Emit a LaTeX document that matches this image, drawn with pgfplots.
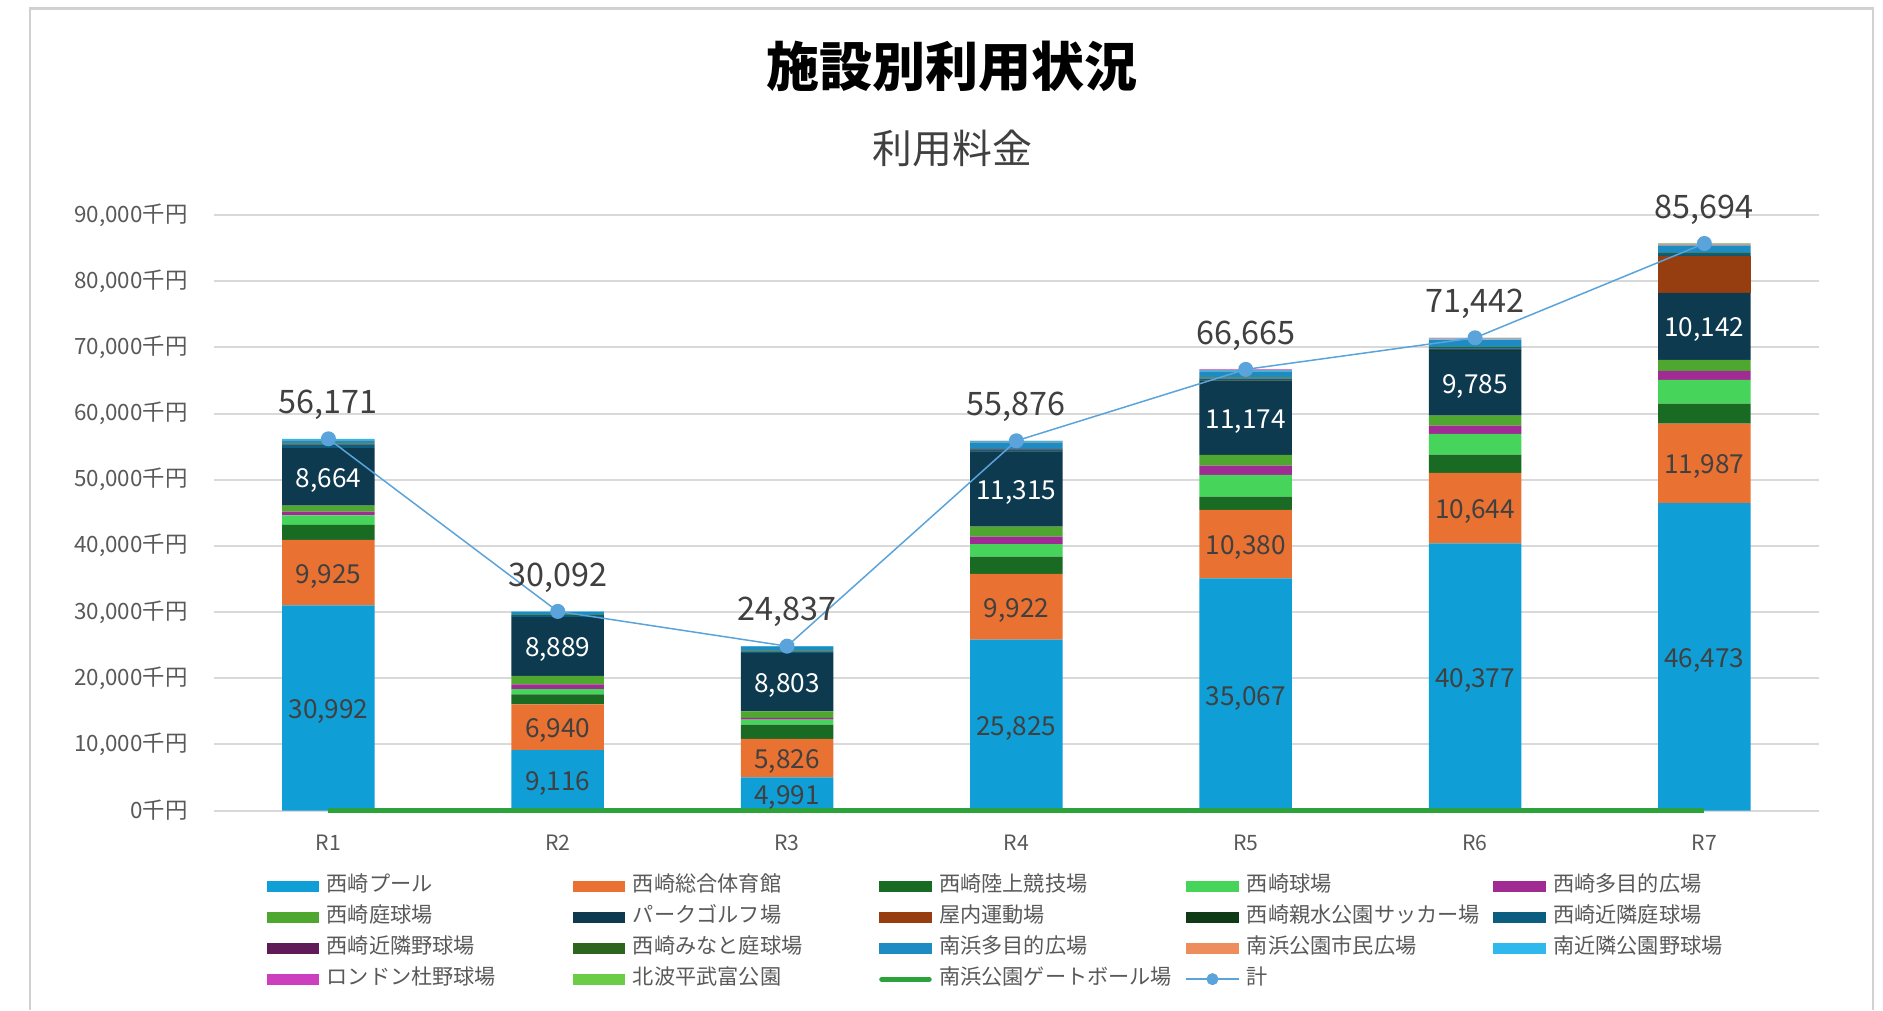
\documentclass[border=0pt]{standalone}
\usepackage{pgfplots}
\pgfplotsset{compat=1.18}
\usepackage{pgfplotstable}
\usepackage{fontspec}
\setmainfont{Noto Sans CJK JP}
\definecolor{cPool}{HTML}{0F9ED5}
\definecolor{cSogo}{HTML}{E97132}
\definecolor{cRiku}{HTML}{196B24}
\definecolor{cKyu}{HTML}{47D45A}
\definecolor{cTamo}{HTML}{A02B93}
\definecolor{cTei}{HTML}{4EA72E}
\definecolor{cPG}{HTML}{0E3A4F}
\definecolor{cOku}{HTML}{973E10}
\definecolor{cShin}{HTML}{0E3B15}
\definecolor{cKinT}{HTML}{0B5E80}
\definecolor{cKinY}{HTML}{601A58}
\definecolor{cMina}{HTML}{2E651C}
\definecolor{cMTamo}{HTML}{1E8CC2}
\definecolor{cShimin}{HTML}{ED8C5C}
\definecolor{cMKin}{HTML}{2FB8EE}
\definecolor{cLon}{HTML}{CC3FBE}
\definecolor{cKita}{HTML}{6BCC45}
\definecolor{cGate}{HTML}{2CA23A}
\definecolor{cTotal}{HTML}{5BA3DB}
\definecolor{tickgray}{HTML}{595959}
\definecolor{labgray}{HTML}{404040}

% stacked series, R1..R7
\pgfplotstableread{
x pool sogo riku kyu tamo tei pg oku shin kint kiny mina mtamo shimin mkin lon kita gate
0 30992 9925 2270 1400 600 900 8664 0 0 500 50 200 450 20 200 0 0 20
1 9116 6940 1500 800 700 1300 8889 0 0 150 20 100 457 20 100 0 0 20
2 4991 5826 2170 750 250 1000 8803 0 0 250 20 150 507 20 100 0 0 20
3 25825 9922 2630 1870 1160 1500 11315 0 100 200 50 100 950 100 100 50 4 20
4 35067 10380 2000 3270 1410 1610 11174 0 100 250 50 150 900 100 100 100 4 20
5 40377 10644 2770 3120 1260 1510 9785 0 100 250 50 150 1100 100 150 50 26 20
6 46473 11987 3040 3580 1360 1660 10142 5490 100 250 50 150 1050 100 120 100 42 20
}\datatable

\pgfplotstableread{
x y lab
0 56171 56,171
1 30092 30,092
2 24837 24,837
3 55876 55,876
4 66665 66,665
5 71442 71,442
6 85694 85,694
}\totaltable

% label positions (segment centres) and values
\pgfplotstableread{
x y lab
0 15496 30,992
1 4558 9,116
2 2495.5 4,991
3 12912.5 25,825
4 17533.5 35,067
5 20188.5 40,377
6 23236.5 46,473
}\poollab
\pgfplotstableread{
x y lab
0 35954.5 9,925
1 12586 6,940
2 7904 5,826
3 30786 9,922
4 40257 10,380
5 45699 10,644
6 52466.5 11,987
}\sogolab
\pgfplotstableread{
x y lab
0 50419 8,664
1 24800.5 8,889
2 19388.5 8,803
3 48564.5 11,315
4 59324 11,174
5 64573.5 9,785
6 73171 10,142
}\pglab

\pgfplotsset{
  barleg/.style={legend image code/.code={\fill[##1,draw=none] (0bp,-2.2bp) rectangle (21bp,2.2bp);}},
  bs/.style={fill=#1, draw=none, barleg},
}

\begin{document}
\begin{tikzpicture}[x=1bp,y=1bp]
\path (0,0) rectangle (753.2,404);
\draw[black!18, line width=1bp] (12,0) -- (12,400.6) -- (749.2,400.6) -- (749.2,0);
\node[font=\bfseries\fontsize{21.3}{24}\selectfont, text=black] at (380.9,377.6) {施設別利用状況};
\node[font=\fontsize{16}{18}\selectfont, text=labgray] at (380.9,344.8) {利用料金};

\begin{axis}[
  at={(85.5bp,79.8bp)}, anchor=south west, scale only axis,
  width=642.1bp, height=238.2bp,
  ybar stacked, bar width=37bp,
  xmin=-0.5, xmax=6.5, ymin=0, ymax=90000,
  xtick={0,1,2,3,4,5,6}, xticklabels={R1,R2,R3,R4,R5,R6,R7},
  ytick={0,10000,20000,30000,40000,50000,60000,70000,80000,90000},
  scaled y ticks=false,
  /pgf/number format/fixed, /pgf/number format/1000 sep={,},
  /pgf/number format/assume math mode=true,
  yticklabel={\pgfmathprintnumber{\tick}千円},
  axis line style={draw=none}, major tick length=0pt,
  ymajorgrids, grid style={draw=black!15, line width=0.8bp},
  yticklabel style={font=\fontsize{9}{10}\selectfont, text=tickgray, xshift=-7bp},
  xticklabel style={font=\fontsize{8.5}{10}\selectfont, text=tickgray, yshift=-6.4bp},
  legend columns=5,
  legend cell align=left,
  legend style={at={(0.033,-0.101)}, anchor=north west, draw=none, fill=none,
    inner sep=0pt, outer sep=0pt,
    /tikz/every even column/.append style={column sep=0pt},
    nodes={font=\fontsize{8.5}{10}\selectfont, text=tickgray, inner xsep=3bp, inner ysep=2bp,
      text height=6.5bp, text depth=1.9bp, text width=95.5bp, align=left}},
]
\addplot[bs=cPool] table[x=x,y=pool] {\datatable};
\addplot[bs=cSogo] table[x=x,y=sogo] {\datatable};
\addplot[bs=cRiku] table[x=x,y=riku] {\datatable};
\addplot[bs=cKyu] table[x=x,y=kyu] {\datatable};
\addplot[bs=cTamo] table[x=x,y=tamo] {\datatable};
\addplot[bs=cTei] table[x=x,y=tei] {\datatable};
\addplot[bs=cPG] table[x=x,y=pg] {\datatable};
\addplot[bs=cOku] table[x=x,y=oku] {\datatable};
\addplot[bs=cShin] table[x=x,y=shin] {\datatable};
\addplot[bs=cKinT] table[x=x,y=kint] {\datatable};
\addplot[bs=cKinY] table[x=x,y=kiny] {\datatable};
\addplot[bs=cMina] table[x=x,y=mina] {\datatable};
\addplot[bs=cMTamo] table[x=x,y=mtamo] {\datatable};
\addplot[bs=cShimin] table[x=x,y=shimin] {\datatable};
\addplot[bs=cMKin] table[x=x,y=mkin] {\datatable};
\addplot[bs=cLon] table[x=x,y=lon] {\datatable};
\addplot[bs=cKita] table[x=x,y=kita] {\datatable};
\addlegendimage{legend image code/.code={\draw[cGate, line width=2bp, line cap=round] (1bp,0) -- (20bp,0);}}
\addlegendimage{legend image code/.code={\draw[cTotal, line width=0.6bp] (0bp,0) -- (21bp,0); \fill[cTotal] (10.5bp,0) circle (2.2bp);}}
\legend{西崎プール,西崎総合体育館,西崎陸上競技場,西崎球場,西崎多目的広場,西崎庭球場,パークゴルフ場,屋内運動場,西崎親水公園サッカー場,西崎近隣庭球場,西崎近隣野球場,西崎みなと庭球場,南浜多目的広場,南浜公園市民広場,南近隣公園野球場,ロンドン杜野球場,北波平武富公園,南浜公園ゲートボール場,計}
\end{axis}

\begin{axis}[
  at={(85.5bp,79.8bp)}, anchor=south west, scale only axis,
  width=642.1bp, height=238.2bp,
  xmin=-0.5, xmax=6.5, ymin=0, ymax=90000,
  hide axis, clip=false,
]
\addplot[cGate, line width=2bp, mark=none] table[x=x,y=gate] {\datatable};
\addplot[cTotal, line width=0.6bp, mark=*, mark size=2.7bp, mark options={fill=cTotal, draw=cTotal},
  point meta=explicit symbolic, nodes near coords,
  every node near coord/.append style={font=\fontsize{13}{15}\selectfont, text=labgray, anchor=center, yshift=13.6bp}]
  table[x=x,y=y,meta=lab] {\totaltable};
\addplot[draw=none, mark=none, point meta=explicit symbolic, nodes near coords,
  every node near coord/.append style={font=\fontsize{10.5}{12}\selectfont, text=labgray, anchor=center, yshift=-1.4bp}]
  table[x=x,y=y,meta=lab] {\poollab};
\addplot[draw=none, mark=none, point meta=explicit symbolic, nodes near coords,
  every node near coord/.append style={font=\fontsize{10.5}{12}\selectfont, text=labgray, anchor=center, yshift=-1.4bp}]
  table[x=x,y=y,meta=lab] {\sogolab};
\addplot[draw=none, mark=none, point meta=explicit symbolic, nodes near coords,
  every node near coord/.append style={font=\fontsize{10.5}{12}\selectfont, text=white, anchor=center, yshift=-1.4bp}]
  table[x=x,y=y,meta=lab] {\pglab};
\end{axis}
\pgfresetboundingbox
\path (0,0) rectangle (753.2,404);
\end{tikzpicture}
\end{document}
